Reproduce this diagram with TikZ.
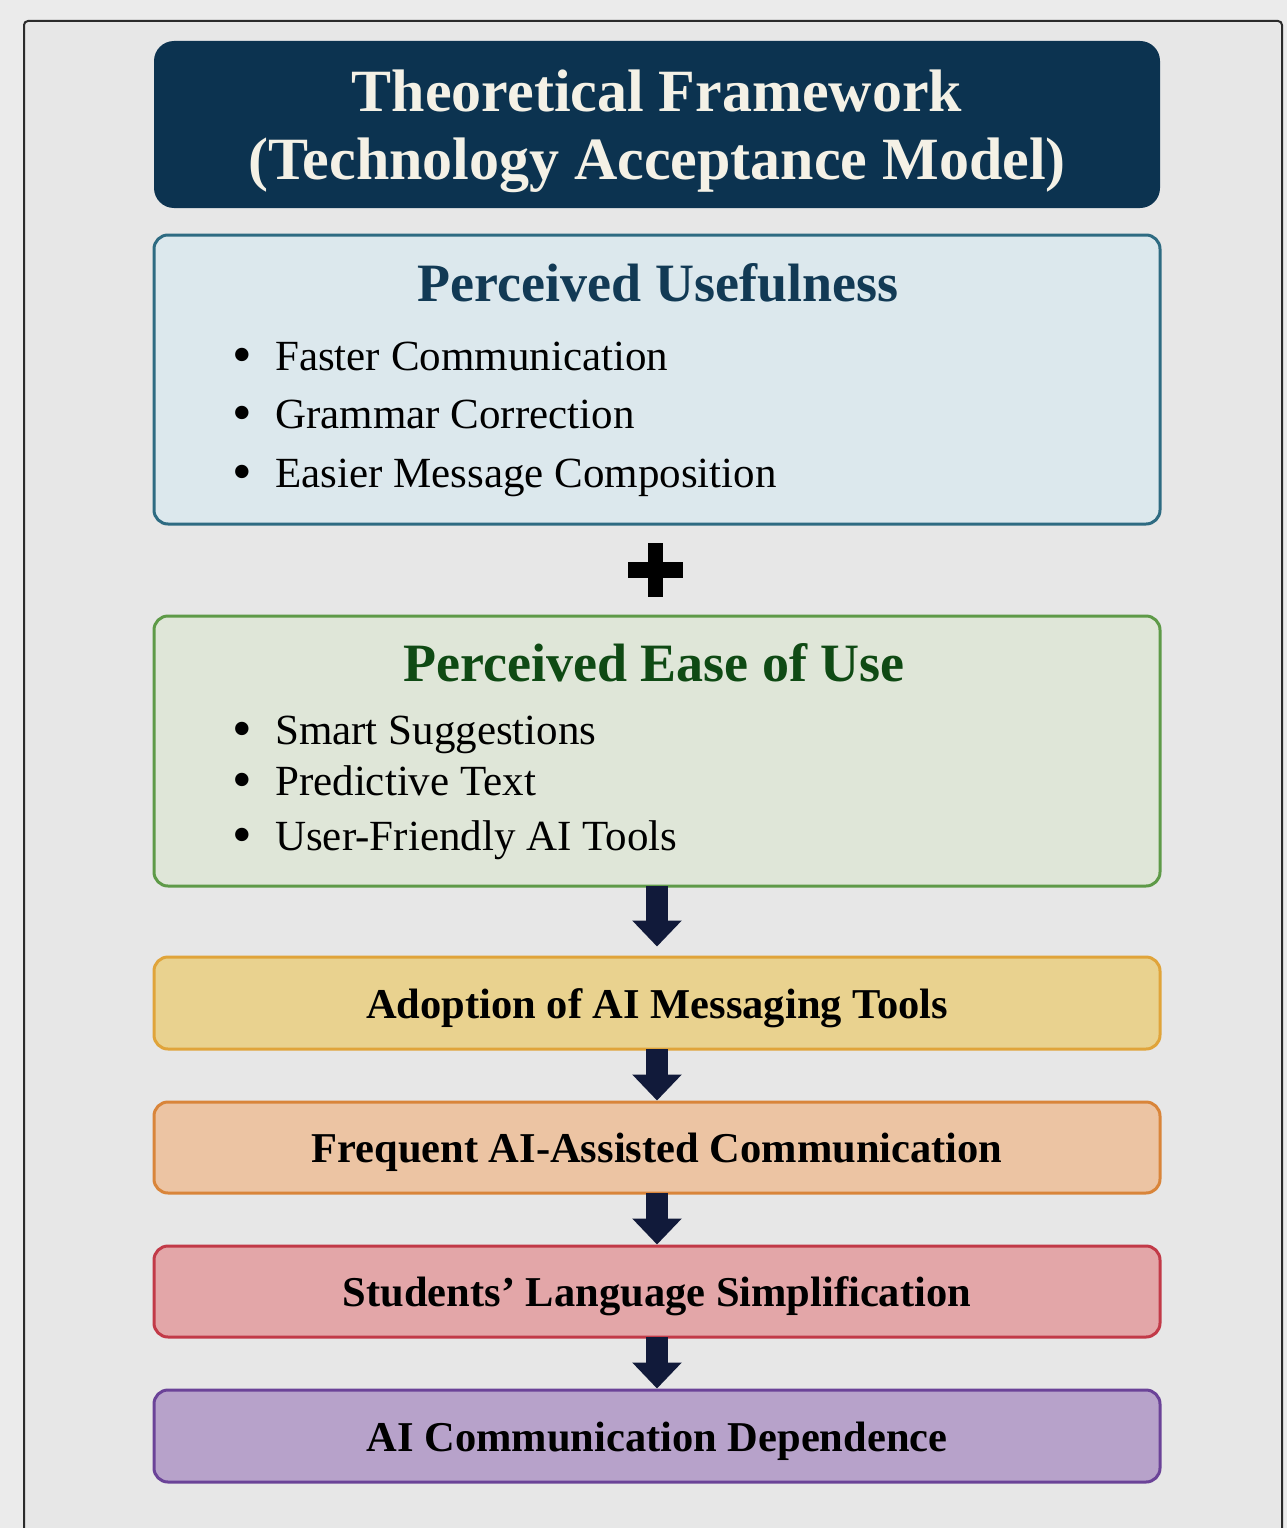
\documentclass[tikz,border=0pt]{standalone}
\usepackage{fontspec}
\setmainfont{Liberation Serif}
\usetikzlibrary{arrows.meta}

\definecolor{pagebg}{HTML}{EBEBEB}
\definecolor{framebg}{HTML}{E7E7E7}
\definecolor{frameline}{HTML}{2B2B2B}
\definecolor{navy}{HTML}{0C3350}
\definecolor{titletext}{HTML}{F4F1E6}
\definecolor{pufill}{HTML}{DCE8ED}
\definecolor{puline}{HTML}{2E6B82}
\definecolor{puhead}{HTML}{123A55}
\definecolor{eufill}{HTML}{DFE6D8}
\definecolor{euline}{HTML}{5E9A48}
\definecolor{euhead}{HTML}{0F4A14}
\definecolor{adfill}{HTML}{E9D28F}
\definecolor{adline}{HTML}{E0A43A}
\definecolor{frfill}{HTML}{ECC4A3}
\definecolor{frline}{HTML}{D9853A}
\definecolor{stfill}{HTML}{E3A6A8}
\definecolor{stline}{HTML}{C23A48}
\definecolor{defill}{HTML}{B7A2CA}
\definecolor{deline}{HTML}{6B4398}
\definecolor{arrowcol}{HTML}{111A3A}

\tikzset{
  panel/.style={rectangle, rounded corners=14pt, line width=3pt,
    minimum width=1006pt, inner sep=0pt},
  titleline/.style={anchor=base, inner sep=0pt, text=titletext,
    font=\fontsize{60}{68}\selectfont\bfseries},
  headtext/.style={anchor=base, inner sep=0pt,
    font=\fontsize{54}{60}\selectfont\bfseries},
  itemtext/.style={anchor=base west, inner sep=0pt,
    font=\fontsize{43}{50}\selectfont},
  bulletmark/.style={anchor=base, inner sep=0pt,
    font=\fontsize{56}{60}\selectfont},
  stagebox/.style={panel, minimum height=91pt, text=black,
    text height=30pt, text depth=0pt,
    font=\fontsize{42.5}{50}\selectfont\bfseries},
  flowarrow/.style={draw=arrowcol, line width=22pt,
    -{Triangle[width=48pt,length=26pt]}}
}

\begin{document}
\begin{tikzpicture}[x=1pt,y=-1pt]
\useasboundingbox (0,0) rectangle (1287,1528);
\fill[pagebg] (0,0) rectangle (1287,1528);
\fill[framebg] (24,21) rectangle (1282,1528);
\draw[frameline, line width=2pt, rounded corners=4pt]
  (24,1540) -- (24,21) -- (1282,21) -- (1282,1540);

% heading block
\node[panel, fill=navy, rounded corners=20pt, minimum height=167pt] (title) at (657,124.5) {};
\node[titleline] (title1) at (657,111) {Theoretical Framework};
\node[titleline] (title2) at (657,179) {(Technology Acceptance Model)};

% perceived usefulness
\node[panel, draw=puline, fill=pufill, minimum height=289pt] (pu) at (657,379.5) {};
\node[headtext, text=puhead] (puhead) at (658,301) {Perceived Usefulness};
\node[bulletmark] (pub1) at (242,373) {\textbullet};
\node[itemtext] (pui1) at (275,370) {Faster Communication};
\node[bulletmark] (pub2) at (242,431) {\textbullet};
\node[itemtext] (pui2) at (275,428) {Grammar Correction};
\node[bulletmark] (pub3) at (242,490) {\textbullet};
\node[itemtext] (pui3) at (275,487) {Easier Message Composition};

% plus sign between the two constructs
\fill[black] (628,562) rectangle (683,577.5);
\fill[black] (648,543) rectangle (663,597);

% perceived ease of use
\node[panel, draw=euline, fill=eufill, minimum height=270pt] (eu) at (657,751) {};
\node[headtext, text=euhead] (euhead) at (654,681) {Perceived Ease of Use};
\node[bulletmark] (eub1) at (242,747) {\textbullet};
\node[itemtext] (eui1) at (275,744) {Smart Suggestions};
\node[bulletmark] (eub2) at (242,798) {\textbullet};
\node[itemtext] (eui2) at (275,795) {Predictive Text};
\node[bulletmark] (eub3) at (242,853) {\textbullet};
\node[itemtext] (eui3) at (275,850) {User-Friendly AI Tools};

% outcome chain
\node[stagebox, draw=adline, fill=adfill, minimum height=92pt] (adopt) at (657,1003)
  {Adoption of AI Messaging Tools};
\node[stagebox, draw=frline, fill=frfill] (freq) at (657,1147.5)
  {Frequent AI-Assisted Communication};
\node[stagebox, draw=stline, fill=stfill] (simp) at (657,1291.5)
  {Students’ Language Simplification};
\node[stagebox, draw=deline, fill=defill, minimum height=92pt] (dep) at (657,1436)
  {AI Communication Dependence};

\draw[flowarrow] ([yshift=1.5pt]eu.south) -- ([yshift=9pt]adopt.north);
\draw[flowarrow] ([yshift=1.5pt]adopt.south) -- (freq.north);
\draw[flowarrow] ([yshift=1.5pt]freq.south) -- (simp.north);
\draw[flowarrow] ([yshift=1.5pt]simp.south) -- (dep.north);
\end{tikzpicture}
\end{document}
